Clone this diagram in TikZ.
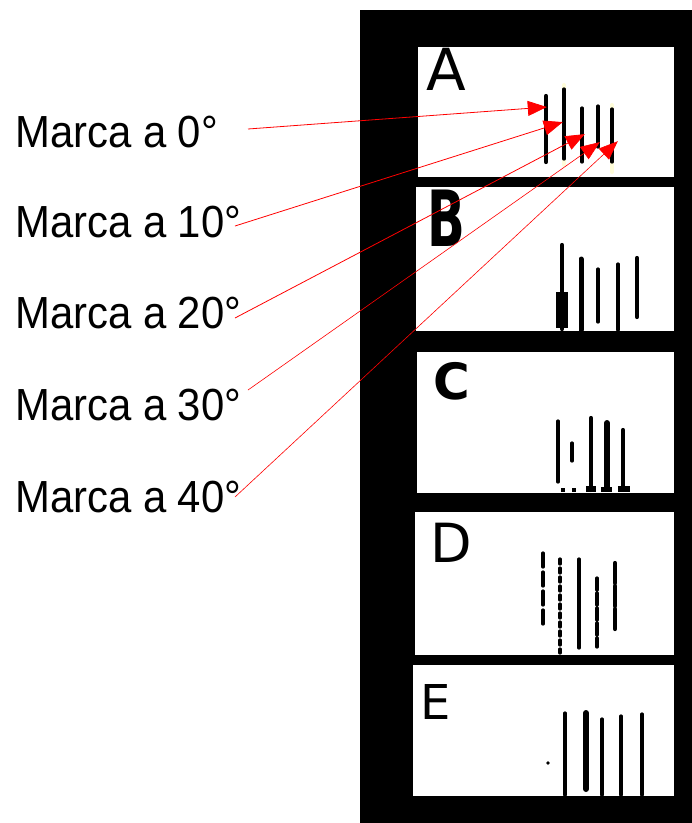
\documentclass[tikz,border=0pt]{standalone}
\usepackage{fontspec}
\setmainfont[FakeStretch=0.93]{Liberation Sans}
\newfontfamily\handfont{DejaVu Sans}
\usetikzlibrary{arrows.meta}
\begin{document}
\begin{tikzpicture}[x=1pt,y=-1pt,
  lbl/.style={anchor=base west,inner sep=0pt,font=\fontsize{45}{50}\selectfont},
  letter/.style={anchor=north west,inner sep=0pt,font=\handfont\fontsize{#1}{#1}\selectfont},
  panel/.style={fill=white},
  bar/.style={line width=4.2pt,line cap=round,black},
  thinbar/.style={line width=3.2pt,line cap=round,black},
  glow/.style={line width=4pt,yellow!15,line cap=round},
  tip/.style={inner sep=0pt,minimum size=0pt},
  arr/.style={red,line width=0.8pt,-{Triangle[length=19pt,width=15pt]}}]
\useasboundingbox (0,0) rectangle (692,823);
\fill[black] (360,10) rectangle (692,823);
% panels
\fill[panel] (418,47) rectangle (674,177);
\fill[panel] (416,187) rectangle (674,331);
\fill[panel] (417,352) rectangle (674,493);
\fill[panel] (415,512) rectangle (674,655);
\fill[panel] (413,665) rectangle (674,796);
% letters
\node[letter=58] (lA) at (426,48) {A};
\node[letter=62,font=\handfont\bfseries\fontsize{62}{62}\selectfont,yscale=1.25,xscale=0.8,transform shape,anchor=north west] (lB) at (427,190) {B};
\node[letter=50,font=\handfont\bfseries\fontsize{50}{50}\selectfont] (lC) at (433,362) {C};
\node[letter=54] (lD) at (430,523) {D};
\node[letter=48] (lE) at (420,684) {E};
% marks A
\draw[glow] (564,85) -- (564,165);
\draw[glow] (612,105) -- (612,172);
\draw[bar] (546,96) -- (546,162);
\draw[thinbar] (564,89) -- (564,159);
\draw[thinbar] (582,108) -- (582,162);
\draw[thinbar] (598,106) -- (598,147);
\draw[thinbar] (612,109) -- (612,162);
\node[tip] (m0) at (547,107) {};
\node[tip] (m1) at (563,122) {};
\node[tip] (m2) at (585,134) {};
\node[tip] (m3) at (600,142) {};
\node[tip] (m4) at (618,141) {};
% marks B
\draw[bar] (562,245) -- (562,329);
\fill[black] (556,292) rectangle (568,328);
\draw[bar,line width=5pt] (581,259) -- (581,330);
\draw[thinbar] (598,269) -- (598,322);
\draw[thinbar] (618,264) -- (618,330);
\draw[bar] (637,258) -- (637,317);
% marks C
\draw[thinbar] (558,421) -- (558,482);
\draw[thinbar] (572,443) -- (572,461);
\draw[bar] (591,418) -- (591,490);
\draw[bar,line width=6pt] (607,423) -- (607,488);
\draw[bar] (623,430) -- (623,488);
\fill[black] (586,486) rectangle (596,492);
\fill[black] (601,487) rectangle (612,492);
\fill[black] (618,486) rectangle (630,492);
\fill[black] (561,488) rectangle (565,492);
\fill[black] (572,488) rectangle (576,492);
% marks D
\draw[thinbar,dash pattern=on 14pt off 5pt] (543,553) -- (543,627);
\draw[thinbar,dash pattern=on 5pt off 4pt] (560,559) -- (560,653);
\draw[thinbar] (579,559) -- (579,648);
\draw[thinbar,dash pattern=on 12pt off 3pt] (597,578) -- (597,647);
\draw[bar,dash pattern=on 20pt off 3pt] (615,563) -- (615,630);
% marks E
\fill[black] (548,763) circle (1.8pt);
\draw[thinbar] (565,713) -- (565,795);
\draw[bar,line width=6pt] (586,713) -- (586,789);
\draw[thinbar] (602,719) -- (602,795);
\draw[thinbar] (621,716) -- (621,795);
\draw[thinbar] (642,714) -- (642,795);
% labels
\node[lbl] (t0) at (15,147) {Marca a 0°};
\node[lbl] (t1) at (15,237) {Marca a 10°};
\node[lbl] (t2) at (15,328) {Marca a 20°};
\node[lbl] (t3) at (15,420) {Marca a 30°};
\node[lbl] (t4) at (15,512) {Marca a 40°};
\coordinate (s0) at (248,129);
\coordinate (s1) at (235,226);
\coordinate (s2) at (235,318);
\coordinate (s3) at (248,390);
\coordinate (s4) at (235,497);
\draw[arr] (s0) -- (m0);
\draw[arr] (s1) -- (m1);
\draw[arr] (s2) -- (m2);
\draw[arr,line width=0.6pt] (s3) -- (m3);
\draw[arr,line width=0.6pt] (s4) -- (m4);
\end{tikzpicture}
\end{document}
